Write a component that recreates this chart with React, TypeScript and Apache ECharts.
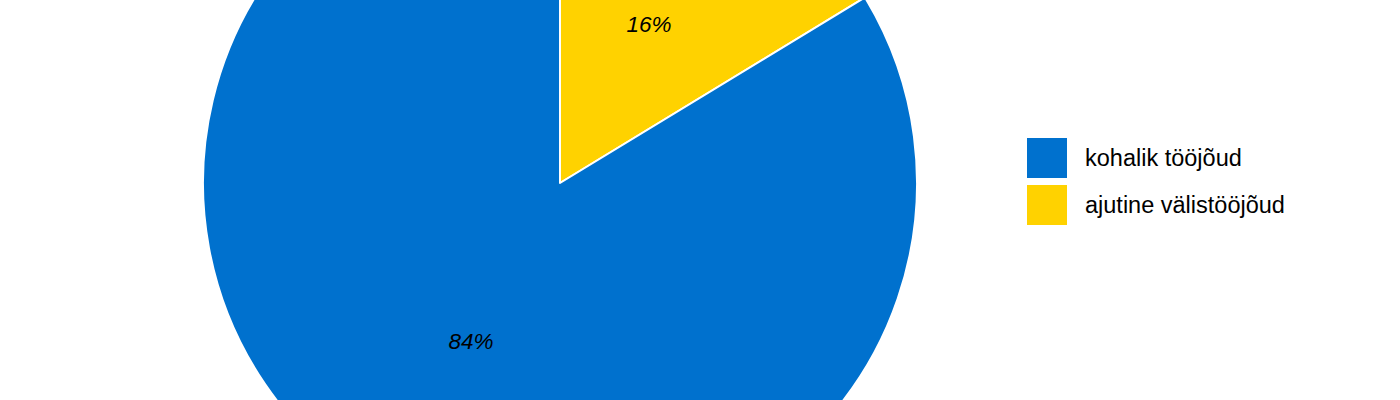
import React, { useEffect, useRef } from "react";
import * as echarts from "echarts";

const categories = ["kohalik tööjõud", "ajutine välistööjõud"];
const values = [83.7, 16.3];
const colors = ["#0071CE", "#FFD200"];
// drawing order: yellow slice starts at 12 o'clock, clockwise
const drawOrder = [1, 0];

export default function App() {
  const ref = useRef<HTMLDivElement>(null);
  useEffect(() => {
    document.body.style.margin = "0";
    const chart = echarts.init(ref.current!, null, { renderer: "svg" });
    chart.setOption({
      animation: false,
      backgroundColor: "#ffffff",
      legend: {
        orient: "vertical",
        left: 1027,
        top: 138,
        padding: 0,
        itemWidth: 40,
        itemHeight: 40,
        itemGap: 7,
        icon: "rect",
        data: categories,
        selectedMode: false,
        itemStyle: { borderWidth: 0 },
        textStyle: {
          fontSize: 23.5,
          color: "#000000",
          fontFamily: "Liberation Sans, Arial, sans-serif",
          padding: [0, 0, 0, 13],
        },
      },
      series: [
        {
          type: "pie",
          center: [560, 183],
          radius: 357,
          startAngle: 90,
          clockwise: true,
          silent: true,
          itemStyle: { borderColor: "#ffffff", borderWidth: 2 },
          label: {
            show: true,
            position: "inside",
            formatter: (p: any) => `${Math.round(p.value)}%`,
            fontSize: 22.5,
            fontStyle: "italic",
            color: "#000000",
            fontFamily: "Liberation Sans, Arial, sans-serif",
          },
          labelLine: { show: false },
          data: drawOrder.map((i) => ({
            name: categories[i],
            value: values[i],
            itemStyle: { color: colors[i] },
          })),
        },
      ],
    });
    return () => chart.dispose();
  }, []);
  return <div ref={ref} style={{ width: 1400, height: 400 }} />;
}
